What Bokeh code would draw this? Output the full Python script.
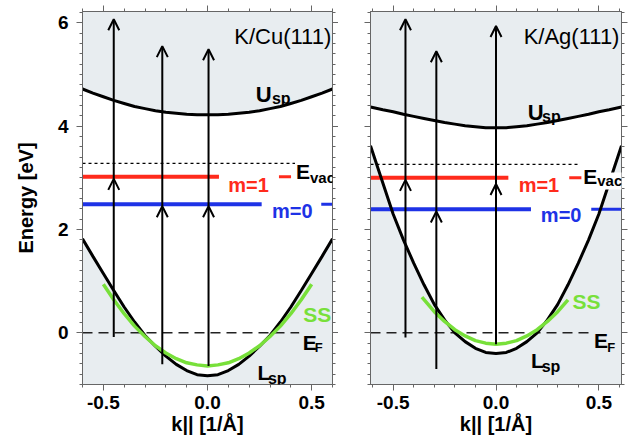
from bokeh.plotting import figure
from bokeh.layouts import row
from bokeh.models import (Range1d, LinearAxis, Label, Arrow, OpenHead, ColumnDataSource,
                          SingleIntervalTicker, PrintfTickFormatter, CustomJSTickFormatter)
from bokeh.embed import file_html
from bokeh.resources import INLINE

FONT = "Liberation Sans"
GRAY = "#e8edf0"
RED = "#ff2b1c"
BLUE = "#1e32e6"
GREEN = "#78e03a"
AXC = "#666666"

# ---------------- K/Cu(111) ----------------
cu_k = [-0.60, -0.55, -0.50, -0.45, -0.40, -0.35, -0.30, -0.25, -0.20, -0.15, -0.10, -0.05, 0.00,
        0.05, 0.10, 0.15, 0.20, 0.25, 0.30, 0.35, 0.40, 0.45, 0.50, 0.55, 0.60]
cu_lsp = [1.82, 1.48, 1.15, 0.82, 0.50, 0.21, -0.05, -0.26, -0.45, -0.61, -0.73, -0.81, -0.83,
          -0.81, -0.73, -0.61, -0.45, -0.26, -0.05, 0.21, 0.50, 0.82, 1.15, 1.48, 1.82]
cu_usp = [4.72, 4.64, 4.57, 4.50, 4.44, 4.38, 4.34, 4.30, 4.27, 4.25, 4.23, 4.22, 4.22,
          4.22, 4.23, 4.25, 4.27, 4.30, 4.34, 4.38, 4.44, 4.50, 4.57, 4.64, 4.72]
cu_ss_k = [-0.50, -0.45, -0.40, -0.35, -0.30, -0.25, -0.20, -0.15, -0.10, -0.05, 0.00,
           0.05, 0.10, 0.15, 0.20, 0.25, 0.30, 0.35, 0.40, 0.45, 0.50]
cu_ss = [0.94, 0.64, 0.37, 0.13, -0.07, -0.25, -0.39, -0.50, -0.58, -0.62, -0.64,
         -0.62, -0.58, -0.50, -0.39, -0.25, -0.07, 0.13, 0.37, 0.64, 0.94]
cu_evac = 3.28
cu_m1 = 3.02
cu_m0 = 2.49
cu_ef = 0.0
cu_evac_span = [-0.60, 0.42]
cu_ef_span = [-0.60, 0.44]
cu_m1_span = [-0.60, 0.055]
cu_m1_tick = [0.343, 0.401]
cu_m0_span = [-0.60, 0.26]
cu_m0_tick = [0.546, 0.60]
cu_arrow_k = [-0.45, -0.217, 0.005]
cu_arrow_start = [-0.08, -0.61, -0.64]
cu_arrow_mid = [2.98, 2.45, 2.45]
cu_arrow_top = [6.07, 5.55, 5.49]

# ---------------- K/Ag(111) ----------------
ag_k = [-0.61, -0.55, -0.50, -0.45, -0.40, -0.35, -0.30, -0.25, -0.20, -0.15, -0.10, -0.05, 0.00,
        0.05, 0.10, 0.15, 0.20, 0.25, 0.30, 0.35, 0.40, 0.45, 0.50, 0.55, 0.61]
ag_lsp = [3.62, 2.90, 2.30, 1.80, 1.35, 0.93, 0.55, 0.25, 0.00, -0.17, -0.30, -0.38, -0.40,
          -0.38, -0.30, -0.17, 0.00, 0.25, 0.55, 0.93, 1.35, 1.80, 2.30, 2.90, 3.62]
ag_usp = [4.37, 4.32, 4.28, 4.23, 4.19, 4.15, 4.11, 4.07, 4.04, 4.01, 3.99, 3.97, 3.97,
          3.97, 3.99, 4.01, 4.04, 4.07, 4.11, 4.15, 4.19, 4.23, 4.28, 4.32, 4.37]
ag_ss_k = [-0.36, -0.30, -0.25, -0.20, -0.15, -0.10, -0.05, 0.00, 0.05, 0.10, 0.15, 0.20, 0.25, 0.30, 0.35]
ag_ss = [0.69, 0.41, 0.22, 0.06, -0.06, -0.15, -0.20, -0.22, -0.20, -0.15, -0.06, 0.06, 0.22, 0.41, 0.64]
ag_evac = 3.26
ag_m1 = 3.00
ag_m0 = 2.39
ag_ef = 0.0
ag_evac_span = [-0.61, 0.41]
ag_ef_span = [-0.61, 0.45]
ag_m1_span = [-0.61, 0.06]
ag_m1_tick = [0.356, 0.415]
ag_m0_span = [-0.61, 0.17]
ag_m0_tick = [0.463, 0.61]
ag_arrow_k = [-0.44, -0.29, 0.0]
ag_arrow_start = [-0.09, -0.70, -0.22]
ag_arrow_mid = [2.96, 2.35, 2.88]
ag_arrow_top = [6.07, 5.45, 5.94]

x_tick_step = 0.5
y_tick_step = 2
x_label = "k|| [1/Å]"
y_label = "Energy [eV]"


def style_axis(ax, show_labels=True):
    ax.axis_line_color = AXC
    ax.major_tick_line_color = AXC
    ax.minor_tick_line_color = AXC
    ax.major_tick_in = 0
    ax.major_tick_out = 6
    ax.minor_tick_in = 0
    ax.minor_tick_out = 3
    ax.major_label_text_font = FONT
    ax.major_label_text_font_style = "bold"
    ax.major_label_text_color = "black"
    ax.major_label_text_font_size = "19px"
    if not show_labels:
        ax.formatter = CustomJSTickFormatter(code="return ''")
        ax.major_label_standoff = 0


def add_label(p, text, x, y, size, color="black", bold=True, align="left", bg=None):
    lab = Label(x=x, y=y, text=text, text_font=FONT, text_font_size=f"{size}px",
                text_font_style="bold" if bold else "normal", text_color=color,
                text_align=align, text_baseline="alphabetic")
    if bg is not None:
        lab.background_fill_color = bg
    p.add_layout(lab)


def make_panel(xlim, k, lsp, usp, ss_k, ss, evac, m1, m0, ef, evac_span, ef_span,
               m1_span, m1_tick, m0_span, m0_tick, ak, a0, a1, a2, labels, first,
               border_left, border_right, fw):
    p = figure(frame_width=fw, frame_height=373, x_range=Range1d(*xlim),
               y_range=Range1d(-1.0, 6.22), output_backend="svg", toolbar_location=None,
               min_border_left=border_left, min_border_right=border_right,
               min_border_top=11, min_border_bottom=62)
    p.background_fill_color = GRAY
    p.border_fill_color = "white"
    p.outline_line_color = AXC
    p.grid.visible = False

    p.xaxis.ticker = SingleIntervalTicker(interval=x_tick_step, num_minor_ticks=5)
    p.yaxis.ticker = SingleIntervalTicker(interval=y_tick_step, num_minor_ticks=10)
    for ax in p.xaxis:
        style_axis(ax, True)
        ax.formatter = PrintfTickFormatter(format="%.1f")
        ax.major_label_standoff = 5
        ax.axis_label = x_label
        ax.axis_label_text_font = FONT
        ax.axis_label_text_font_style = "bold"
        ax.axis_label_text_font_size = "20px"
        ax.axis_label_text_color = "black"
        ax.axis_label_standoff = 1
    for ax in p.yaxis:
        style_axis(ax, first)
        if first:
            ax.major_label_standoff = 8
            ax.axis_label = y_label
            ax.axis_label_text_font = FONT
            ax.axis_label_text_font_style = "bold"
            ax.axis_label_text_font_size = "20px"
            ax.axis_label_text_color = "black"
            ax.axis_label_standoff = 18
    top = LinearAxis(ticker=SingleIntervalTicker(interval=x_tick_step, num_minor_ticks=5))
    style_axis(top, False)
    p.add_layout(top, "above")
    right = LinearAxis(ticker=SingleIntervalTicker(interval=y_tick_step, num_minor_ticks=10))
    style_axis(right, False)
    p.add_layout(right, "right")

    # band gap (white) between L_sp and U_sp; projected bulk bands stay gray
    p.varea(x=k, y1=lsp, y2=usp, fill_color="white")

    # reference levels
    p.line(evac_span, [evac, evac], line_color="black", line_width=1.2, line_dash="3 3")
    p.line(ef_span, [ef, ef], line_color="#222222", line_width=1.5, line_dash="10 6")
    p.line(m1_span, [m1, m1], line_color=RED, line_width=4)
    p.line(m1_tick, [m1, m1], line_color=RED, line_width=3)
    p.line(m0_span, [m0, m0], line_color=BLUE, line_width=4)
    p.line(m0_tick, [m0, m0], line_color=BLUE, line_width=3)

    # bands
    p.line(k, lsp, line_color="black", line_width=3)
    p.line(k, usp, line_color="black", line_width=3)
    p.line(ss_k, ss, line_color=GREEN, line_width=3.5)

    # two-photon transitions
    lower = ColumnDataSource(dict(x0=ak, y0=a0, x1=ak, y1=a1))
    upper = ColumnDataSource(dict(x0=ak, y0=a1, x1=ak, y1=a2))
    for src in (lower, upper):
        p.add_layout(Arrow(end=OpenHead(size=11, line_width=2, line_color="black"),
                           x_start="x0", y_start="y0", x_end="x1", y_end="y1",
                           line_width=2, line_color="black", source=src))

    for lab in labels:
        add_label(p, **lab)
    return p


cu_labels = [
    dict(text="K/Cu(111)", x=0.594, y=5.74, size=22, bold=False, align="right"),
    dict(text="U", x=0.232, y=4.62, size=22),
    dict(text="sp", x=0.309, y=4.53, size=16),
    dict(text="E", x=0.425, y=3.12, size=21),
    dict(text="vac", x=0.492, y=3.00, size=15),
    dict(text="m=1", x=0.10, y=2.87, size=20, color=RED),
    dict(text="m=0", x=0.31, y=2.35, size=20, color=BLUE),
    dict(text="SS", x=0.46, y=0.36, size=21, color=GREEN),
    dict(text="E", x=0.457, y=-0.19, size=21),
    dict(text="F", x=0.515, y=-0.29, size=13),
    dict(text="L", x=0.24, y=-0.77, size=21),
    dict(text="sp", x=0.29, y=-0.88, size=16),
]

ag_labels = [
    dict(text="K/Ag(111)", x=0.60, y=5.74, size=22, bold=False, align="right"),
    dict(text="U", x=0.154, y=4.26, size=22),
    dict(text="sp", x=0.224, y=4.18, size=16),
    dict(text="E", x=0.424, y=3.03, size=21, bg="white"),
    dict(text="vac", x=0.492, y=2.94, size=15, bg="white"),
    dict(text="m=1", x=0.11, y=2.87, size=20, color=RED),
    dict(text="m=0", x=0.218, y=2.29, size=20, color=BLUE),
    dict(text="SS", x=0.372, y=0.61, size=21, color=GREEN),
    dict(text="E", x=0.476, y=-0.15, size=21),
    dict(text="F", x=0.541, y=-0.29, size=13),
    dict(text="L", x=0.17, y=-0.54, size=21),
    dict(text="sp", x=0.222, y=-0.65, size=16),
]

p1 = make_panel((-0.6, 0.6), cu_k, cu_lsp, cu_usp, cu_ss_k, cu_ss, cu_evac, cu_m1, cu_m0, cu_ef,
                cu_evac_span, cu_ef_span, cu_m1_span, cu_m1_tick, cu_m0_span, cu_m0_tick,
                cu_arrow_k, cu_arrow_start, cu_arrow_mid, cu_arrow_top, cu_labels, True,
                82, 6, 250)
p2 = make_panel((-0.61, 0.61), ag_k, ag_lsp, ag_usp, ag_ss_k, ag_ss, ag_evac, ag_m1, ag_m0, ag_ef,
                ag_evac_span, ag_ef_span, ag_m1_span, ag_m1_tick, ag_m0_span, ag_m0_tick,
                ag_arrow_k, ag_arrow_start, ag_arrow_mid, ag_arrow_top, ag_labels, False,
                32, 8, 251)

layout = row(p1, p2)
open("out.html", "w").write(file_html(layout, INLINE))
